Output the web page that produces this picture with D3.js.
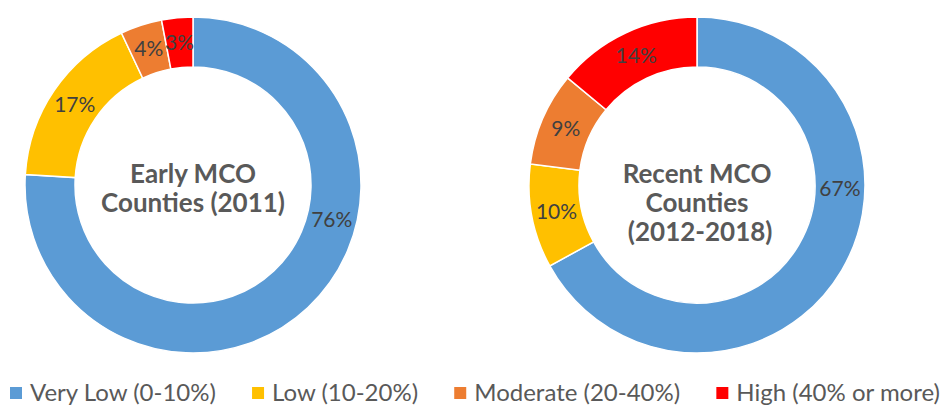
<!DOCTYPE html>
<html>
<head>
<meta charset="utf-8">
<script src="https://cdn.jsdelivr.net/npm/d3@7"></script>
<style>
  html, body { margin: 0; padding: 0; background: #ffffff; }
  svg { display: block; }
</style>
</head>
<body>
<div class="graph"></div>
<script>
const categories = ['Very Low (0-10%)', 'Low (10-20%)', 'Moderate (20-40%)', 'High (40% or more)']
const colors = ['#5B9BD5', '#FFC000', '#ED7D31', '#FF0000']
const earlyValues = [76, 17, 4, 3]
const recentValues = [67, 10, 9, 14]
const earlyTitle = ['Early MCO', 'Counties (2011)']
const recentTitle = ['Recent MCO', 'Counties', ' (2012-2018)']

const width = 945
const height = 406

/**
 * Creates the svg canvas.
 *
 * @returns {*} The d3 Selection of the svg
 */
function generateSvg () {
  return d3.select('.graph')
    .append('svg')
    .attr('width', width)
    .attr('height', height)
}

/**
 * Draws one donut with its slice labels and center title.
 *
 * @param {*} svg The svg selection
 * @param {number[]} values The slice values
 * @param {string[]} title The lines of the center text
 * @param {number} cx The center x
 */
function drawDonut (svg, values, title, cx) {
  const outer = 168
  const inner = 118
  const cy = 185
  const g = svg.append('g')
    .attr('transform', `translate(${cx}, ${cy})`)

  const pie = d3.pie().sort(null).value(d => d)
  const arcs = pie(values)
  const arc = d3.arc().innerRadius(inner).outerRadius(outer)

  g.selectAll('path')
    .data(arcs)
    .join('path')
    .attr('d', arc)
    .attr('fill', (d, i) => colors[i])
    .attr('stroke', '#ffffff')
    .attr('stroke-width', 1.5)

  const mid = (inner + outer) / 2
  // big slices get their label pulled toward the start, like the original
  const labelAngle = d => {
    const span = d.endAngle - d.startAngle
    return span > Math.PI ? d.startAngle + span * 0.38 : (d.startAngle + d.endAngle) / 2
  }

  g.selectAll('text.label')
    .data(arcs)
    .join('text')
    .attr('class', 'label')
    .attr('x', d => mid * Math.sin(labelAngle(d)))
    .attr('y', d => -mid * Math.cos(labelAngle(d)))
    .attr('dy', '0.35em')
    .attr('text-anchor', 'middle')
    .attr('font-family', 'Lato, sans-serif')
    .attr('font-size', 21)
    .attr('fill', '#404040')
    .text(d => d.data + '%')

  g.selectAll('text.title')
    .data(title)
    .join('text')
    .attr('class', 'title')
    .attr('x', 0)
    .attr('y', (d, i) => -2 + i * 29)
    .attr('text-anchor', 'middle')
    .attr('font-family', 'Lato, sans-serif')
    .attr('font-weight', 'bold')
    .attr('font-size', 26)
    .attr('fill', '#595959')
    .attr('xml:space', 'preserve')
    .style('white-space', 'pre')
    .text(d => d)
}

/**
 * Draws the legend along the bottom.
 *
 * @param {*} svg The svg selection
 */
function drawLegend (svg) {
  const g = svg.append('g')
  const items = g.selectAll('g.item')
    .data(categories)
    .join('g')
    .attr('class', 'item')

  items.append('rect')
    .attr('width', 12)
    .attr('height', 12)
    .attr('y', 387)
    .attr('fill', (d, i) => colors[i])

  items.append('text')
    .attr('x', 20)
    .attr('y', 401)
    .attr('font-family', 'Lato, sans-serif')
    .attr('font-size', 24)
    .attr('fill', '#595959')
    .text(d => d)

  const widths = items.nodes().map(n => 20 + d3.select(n).select('text').node().getComputedTextLength())
  const left = 10
  const right = 940
  const gap = (right - left - d3.sum(widths)) / (widths.length - 1)
  let x = left
  items.attr('transform', (d, i) => {
    const t = `translate(${x}, 0)`
    x += widths[i] + gap
    return t
  })
}

const svg = generateSvg()
drawDonut(svg, earlyValues, earlyTitle, 193)
drawDonut(svg, recentValues, recentTitle, 697)
drawLegend(svg)
</script>
</body>
</html>
